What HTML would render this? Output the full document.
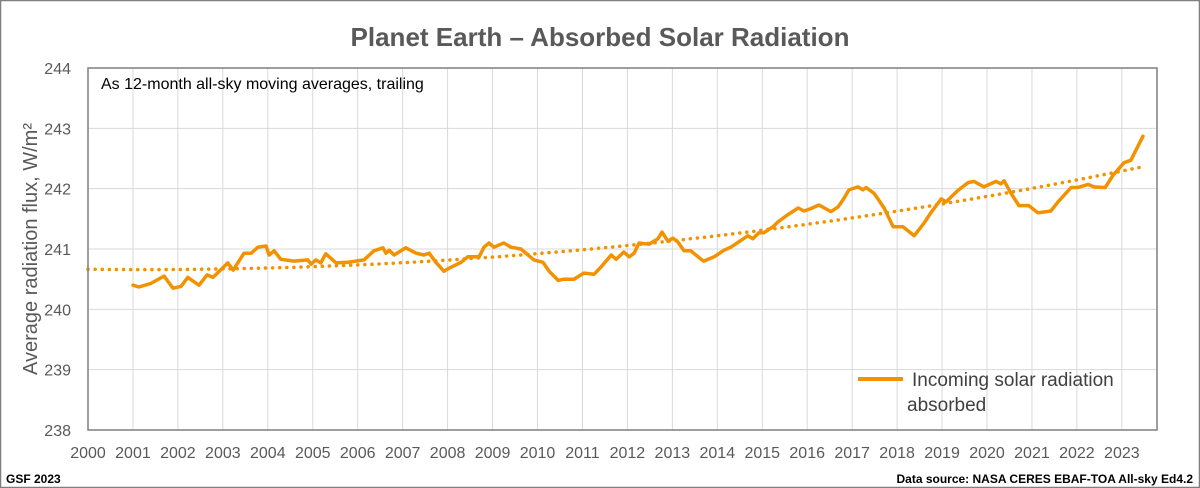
<!DOCTYPE html>
<html><head><meta charset="utf-8"><style>
html,body{margin:0;padding:0;background:#fff}
svg{display:block}
text{font-family:"Liberation Sans",sans-serif}
</style></head><body>
<svg id="chart" width="1200" height="488" viewBox="0 0 1200 488" xmlns="http://www.w3.org/2000/svg">
<rect x="0.5" y="0.5" width="1199" height="487" fill="#fff" stroke="#7f7f7f" stroke-width="1.5"/>
<text x="600" y="46" text-anchor="middle" font-size="26" font-weight="bold" fill="#595959">Planet Earth – Absorbed Solar Radiation</text>
<g id="grid"></g>
<g id="trend"></g>
<g id="series"></g>
<rect x="88" y="68" width="1069" height="362" fill="none" stroke="#7f7f7f" stroke-width="1.5"/>
<text x="101" y="89" font-size="16" fill="#000">As 12-month all-sky moving averages, trailing</text>
<g id="yticks"></g>
<g id="xticks"></g>
<text transform="translate(37,249) rotate(-90)" text-anchor="middle" font-size="20" fill="#595959">Average radiation flux, W/m²</text>
<g>
<line x1="858" y1="379" x2="903" y2="379" stroke="#f39200" stroke-width="4"/>
<text font-size="19" fill="#404040"><tspan x="912" y="386">Incoming solar radiation</tspan><tspan x="907" y="411">absorbed</tspan></text>
</g>
<text x="6" y="483" font-size="12" font-weight="bold" fill="#000">GSF 2023</text>
<text x="1193" y="483" text-anchor="end" font-size="12" font-weight="bold" fill="#000">Data source: NASA CERES EBAF-TOA All-sky Ed4.2</text>
</svg>
<script>
const years = [2001.00,2001.13,2001.40,2001.69,2001.89,2002.07,2002.22,2002.47,2002.65,2002.78,2003.11,2003.23,2003.47,2003.63,2003.78,2003.96,2004.03,2004.14,2004.29,2004.58,2004.89,2004.96,2005.07,2005.18,2005.29,2005.52,2005.78,2006.14,2006.36,2006.56,2006.63,2006.70,2006.81,2007.07,2007.30,2007.47,2007.59,2007.74,2007.92,2008.03,2008.30,2008.45,2008.70,2008.81,2008.92,2009.03,2009.25,2009.41,2009.63,2009.79,2009.92,2010.12,2010.26,2010.46,2010.59,2010.81,2011.03,2011.26,2011.41,2011.64,2011.75,2011.92,2012.04,2012.15,2012.26,2012.48,2012.68,2012.77,2012.90,2013.01,2013.12,2013.26,2013.41,2013.64,2013.70,2013.93,2014.15,2014.30,2014.48,2014.68,2014.79,2014.93,2015.04,2015.24,2015.35,2015.57,2015.80,2015.93,2016.08,2016.26,2016.53,2016.69,2016.80,2016.93,2017.13,2017.24,2017.31,2017.49,2017.71,2017.91,2018.13,2018.38,2018.60,2018.75,2018.98,2019.09,2019.35,2019.58,2019.71,2019.93,2020.20,2020.31,2020.38,2020.53,2020.71,2020.93,2021.13,2021.42,2021.58,2021.87,2022.02,2022.25,2022.38,2022.63,2022.80,2023.05,2023.20,2023.47];
const flux = [240.40,240.37,240.43,240.55,240.35,240.38,240.53,240.40,240.57,240.53,240.77,240.65,240.93,240.93,241.03,241.05,240.90,240.97,240.83,240.80,240.82,240.75,240.82,240.77,240.92,240.77,240.78,240.82,240.97,241.02,240.93,240.98,240.90,241.02,240.93,240.90,240.93,240.78,240.63,240.68,240.78,240.87,240.87,241.03,241.10,241.03,241.10,241.03,241.00,240.90,240.82,240.78,240.63,240.48,240.50,240.50,240.60,240.58,240.70,240.90,240.83,240.95,240.87,240.93,241.10,241.08,241.17,241.28,241.13,241.18,241.12,240.97,240.97,240.83,240.80,240.87,240.98,241.03,241.12,241.22,241.17,241.27,241.27,241.37,241.45,241.57,241.68,241.63,241.67,241.73,241.62,241.70,241.82,241.98,242.03,241.98,242.02,241.92,241.68,241.37,241.37,241.22,241.43,241.60,241.83,241.78,241.97,242.10,242.12,242.03,242.12,242.08,242.13,241.93,241.72,241.72,241.60,241.63,241.78,242.02,242.02,242.07,242.03,242.02,242.22,242.43,242.47,242.87];
const yTicks = [238,239,240,241,242,243,244];
const xTicks = [2000,2001,2002,2003,2004,2005,2006,2007,2008,2009,2010,2011,2012,2013,2014,2015,2016,2017,2018,2019,2020,2021,2022,2023];

const NS='http://www.w3.org/2000/svg';
const X0=88,X1=1157,Y0=68,Y1=430;
const xMin=2000,xMax=2000+(X1-X0)/44.95,yMin=238,yMax=244;
function xs(v){return X0+(v-xMin)/(xMax-xMin)*(X1-X0);}
function ys(v){return Y1-(v-yMin)/(yMax-yMin)*(Y1-Y0);}
function mk(tag,attrs,parent){const e=document.createElementNS(NS,tag);for(const k in attrs)e.setAttribute(k,attrs[k]);parent.appendChild(e);return e;}

const grid=document.getElementById('grid');
yTicks.forEach(t=>{
  if(t>yMin&&t<yMax){const l=mk('line',{x1:X0,x2:X1,y1:ys(t),y2:ys(t),stroke:'#d9d9d9','stroke-width':1},grid);
  
  }
  const tx=mk('text',{x:71,y:ys(t)+6,'text-anchor':'end','font-size':16,fill:'#595959'},document.getElementById('yticks'));
  tx.textContent=t;
  
  
});
xTicks.forEach(t=>{
  if(t>xMin){const l=mk('line',{x1:xs(t),x2:xs(t),y1:Y0,y2:Y1,stroke:'#d9d9d9','stroke-width':1},grid);
  
  }
  const tx=mk('text',{x:xs(t),y:458,'text-anchor':'middle','font-size':16,fill:'#595959'},document.getElementById('xticks'));
  tx.textContent=t;
  
  
});

// quadratic least-squares trendline from data
(function(){
  let S=[0,0,0,0,0],T=[0,0,0];
  years.forEach((y,i)=>{const t=y-2000;let p=1;for(let k=0;k<5;k++){S[k]+=p;if(k<3)T[k]+=p*flux[i];p*=t;}});
  const A=[[S[0],S[1],S[2],T[0]],[S[1],S[2],S[3],T[1]],[S[2],S[3],S[4],T[2]]];
  for(let i=0;i<3;i++){for(let j=i+1;j<3;j++){const f=A[j][i]/A[i][i];for(let k=i;k<4;k++)A[j][k]-=f*A[i][k];}}
  const c=[0,0,0];for(let i=2;i>=0;i--){let s=A[i][3];for(let k=i+1;k<3;k++)s-=A[i][k]*c[k];c[i]=s/A[i][i];}
  let d='';const end=years[years.length-1];
  for(let t=0;t<=end-2000+1e-9;t+=0.1){const v=c[0]+c[1]*t+c[2]*t*t;d+=(d?'L':'M')+xs(2000+t).toFixed(1)+','+ys(v).toFixed(1);}
  const p=mk('path',{d:d,fill:'none',stroke:'#f39200','stroke-width':3.5,'stroke-dasharray':'0.1 7','stroke-linecap':'round'},document.getElementById('trend'));
  
  
})();

const d=years.map((y,i)=>(i?'L':'M')+xs(y).toFixed(1)+','+ys(flux[i]).toFixed(1)).join('');
const line=mk('path',{d:d,fill:'none',stroke:'#f39200','stroke-width':3.5,'stroke-linejoin':'round','stroke-linecap':'round'},document.getElementById('series'));


</script>
</body></html>
